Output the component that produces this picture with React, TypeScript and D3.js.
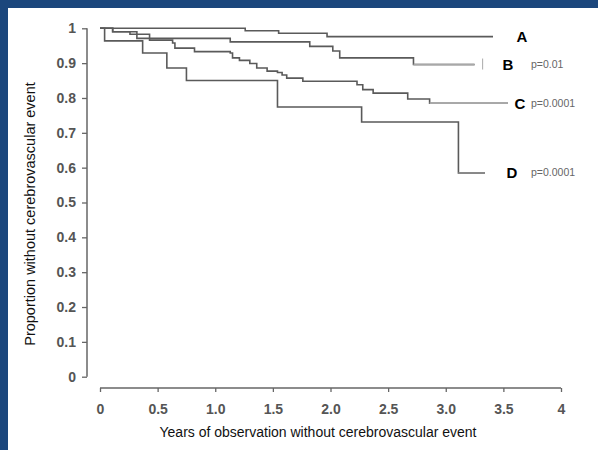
import React, { useEffect, useRef } from 'react';
import * as d3 from 'd3';

// Kaplan-Meier style curves: [years, proportion]
const groupA: [number, number][] = [[0, 1], [1.26, 0.993], [1.55, 0.986], [1.97, 0.976], [3.41, 0.976]];
const groupB: [number, number][] = [[0, 1], [0.11, 0.99], [0.32, 0.971], [1.13, 0.961], [1.82, 0.948], [2.02, 0.935], [2.08, 0.915], [2.72, 0.896], [3.25, 0.896]];
const groupC: [number, number][] = [
  [0, 1], [0.11, 0.99], [0.26, 0.983], [0.43, 0.966], [0.63, 0.958], [0.65, 0.943], [0.82, 0.933],
  [1.13, 0.929], [1.15, 0.915], [1.21, 0.908], [1.3, 0.899], [1.36, 0.886], [1.45, 0.877], [1.54, 0.873],
  [1.58, 0.866], [1.62, 0.857], [1.76, 0.848], [2.23, 0.838], [2.28, 0.824], [2.37, 0.814], [2.67, 0.797],
  [2.86, 0.785], [3.54, 0.785]
];
const groupD: [number, number][] = [[0, 1], [0.04, 0.964], [0.37, 0.929], [0.58, 0.886], [0.75, 0.85], [1.54, 0.774], [2.27, 0.731], [3.11, 0.585], [3.34, 0.585]];

const curves = [groupA, groupB, groupC, groupD];
const groupNames = ['A', 'B', 'C', 'D'];
const pValues = ['', 'p=0.01', 'p=0.0001', 'p=0.0001'];
// time from which each curve fades to light grey (scanned look of the original)
const fadeFrom = [null, 2.72, 2.86, 3.11];

const yTicks = [0, 0.1, 0.2, 0.3, 0.4, 0.5, 0.6, 0.7, 0.8, 0.9, 1];
const xTicks = [0, 0.5, 1, 1.5, 2, 2.5, 3, 3.5, 4];
const xTickLabels = ['0', '0.5', '1.0', '1.5', '2.0', '2.5', '3.0', '3.5', '4'];

function App() {
  const chart = useRef<SVGSVGElement>(null);

  useEffect(() => {
    const w = 598;
    const h = 450;
    const font = 'Liberation Sans, Arial, sans-serif';

    const svg = d3.select(chart.current);
    svg.selectAll('*').remove();
    svg.attr('width', w).attr('height', h);

    // slide background + white panel
    svg.append('rect').attr('width', w).attr('height', h).attr('fill', '#1b467c');
    svg.append('rect').attr('x', 8).attr('y', 8).attr('width', w - 8).attr('height', h - 8).attr('fill', '#ffffff');

    const x = d3.scaleLinear().domain([0, 4]).range([100, 561]);
    const y = d3.scaleLinear().domain([0, 1]).range([376.7, 28.3]);

    // Y AXIS
    const yAxis = svg.append('g').attr('transform', 'translate(87,0)')
      .call(d3.axisLeft(y).tickValues(yTicks).tickSize(5).tickPadding(6)
        .tickFormat(d => (d === 0 || d === 1 ? String(d) : d3.format('.1f')(d as number))));
    yAxis.select('.domain').attr('stroke', '#666').attr('stroke-width', 1.5).attr('d', `M0,${y(0)}V${y(1)}`);
    yAxis.selectAll('.tick line').attr('stroke', '#666').attr('stroke-width', 1.3);
    yAxis.selectAll('.tick text').attr('fill', '#555').attr('font-size', 14).attr('font-weight', 'bold').attr('font-family', font);

    // X AXIS
    const xAxis = svg.append('g').attr('transform', 'translate(0,388)')
      .call(d3.axisBottom(x).tickValues(xTicks).tickSize(4).tickPadding(12)
        .tickFormat((d, i) => xTickLabels[i]));
    xAxis.select('.domain').attr('stroke', '#666').attr('stroke-width', 1.5).attr('d', `M${x(0)},0H${x(4)}`);
    xAxis.selectAll('.tick line').attr('stroke', '#666').attr('stroke-width', 1.3);
    xAxis.selectAll('.tick text').attr('fill', '#555').attr('font-size', 14).attr('font-weight', 'bold').attr('font-family', font);

    // AXIS TITLES
    svg.append('text')
      .text('Years of observation without cerebrovascular event')
      .attr('x', 318).attr('y', 437)
      .attr('text-anchor', 'middle')
      .attr('font-size', 14).attr('font-family', font).attr('fill', '#111');
    svg.append('text')
      .text('Proportion without cerebrovascular event')
      .attr('transform', 'translate(35,214) rotate(-90)')
      .attr('text-anchor', 'middle')
      .attr('font-size', 14.5).attr('font-family', font).attr('fill', '#111');

    // CURVES
    const line = d3.line<[number, number]>()
      .x(p => x(p[0]))
      .y(p => y(p[1]))
      .curve(d3.curveStepAfter);

    svg.append('g').selectAll('path')
      .data(curves)
      .join('path')
      .attr('d', d => line(d))
      .attr('fill', 'none')
      .attr('stroke', '#5a5a5a')
      .attr('stroke-width', 1.6);

    // faded tails
    curves.forEach((c, i) => {
      const f = fadeFrom[i];
      if (f === null) return;
      const tail = c.filter(p => p[0] >= f);
      svg.append('path')
        .attr('d', line(tail))
        .attr('fill', 'none')
        .attr('stroke', i === 3 ? '#8a8a8a' : '#a8a8a8')
        .attr('stroke-width', 1.8);
    });

    // censor marks
    const bEnd = groupB[groupB.length - 1][1];
    svg.append('line')
      .attr('x1', x(3.32)).attr('x2', x(3.32))
      .attr('y1', y(bEnd) - 6).attr('y2', y(bEnd) + 5)
      .attr('stroke', '#aaa').attr('stroke-width', 1);

    // LABELS
    const labelPos = [522, 508, 520, 512];
    const labels = svg.append('g');
    curves.forEach((c, i) => {
      const yv = y(c[c.length - 1][1]);
      labels.append('text')
        .text(groupNames[i])
        .attr('x', labelPos[i]).attr('y', yv + 5.5)
        .attr('text-anchor', 'middle')
        .attr('font-size', 15).attr('font-weight', 'bold').attr('font-family', font).attr('fill', '#000');
      if (pValues[i]) {
        labels.append('text')
          .text(pValues[i])
          .attr('x', 531).attr('y', yv + 3.5)
          .attr('font-size', 10.5).attr('font-family', font).attr('fill', '#666');
      }
    });
  }, []);

  return (
    <div style={{ position: 'absolute', left: 0, top: 0 }}>
      <svg ref={chart} style={{ display: 'block' }}></svg>
    </div>
  );
}

export default App;
